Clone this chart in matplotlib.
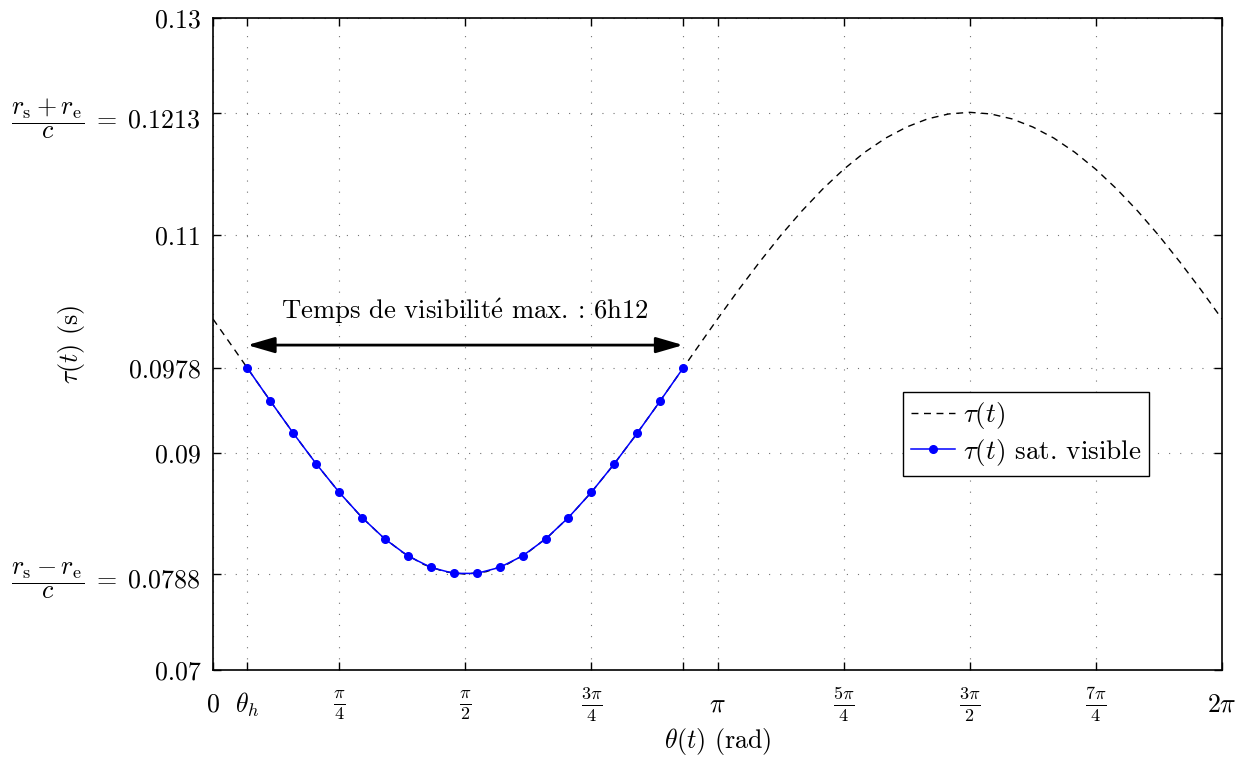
import numpy as np
import matplotlib
matplotlib.use('Agg')
import matplotlib.pyplot as plt
from matplotlib.patches import ArrowStyle

plt.rcParams['font.family'] = ['cmr10', 'DejaVu Serif']
plt.rcParams['mathtext.fontset'] = 'cm'
plt.rcParams['axes.unicode_minus'] = False

# ---- data ----
theta_curve_deg = [0, 7.5, 15, 22.5, 30, 37.5, 45, 52.5, 60, 67.5, 75, 82.5, 90,
                   97.5, 105, 112.5, 120, 127.5, 135, 142.5, 150, 157.5, 165, 172.5, 180,
                   187.5, 195, 202.5, 210, 217.5, 225, 232.5, 240, 247.5, 255, 262.5, 270,
                   277.5, 285, 292.5, 300, 307.5, 315, 322.5, 330, 337.5, 345, 352.5, 360]
tau_curve = [0.10230, 0.09955, 0.09677, 0.09401, 0.09132, 0.08875, 0.08636, 0.08421,
             0.08236, 0.08085, 0.07973, 0.07905, 0.07882,
             0.07905, 0.07973, 0.08085, 0.08236, 0.08421, 0.08636, 0.08875, 0.09132,
             0.09401, 0.09677, 0.09955, 0.10230,
             0.10498, 0.10754, 0.10997, 0.11221, 0.11425, 0.11607, 0.11764, 0.11895,
             0.11997, 0.12072, 0.12117, 0.12132,
             0.12117, 0.12072, 0.11997, 0.11895, 0.11764, 0.11607, 0.11425, 0.11221,
             0.10997, 0.10754, 0.10498, 0.10230]

theta_vis = [0.2140, 0.3568, 0.4996, 0.6424, 0.7853, 0.9281, 1.0709, 1.2137, 1.3566, 1.4994,
             1.6422, 1.7850, 1.9279, 2.0707, 2.2135, 2.3563, 2.4992, 2.6420, 2.7848, 2.9276]
tau_vis = [0.09779, 0.09476, 0.09180, 0.08898, 0.08636, 0.08403, 0.08205, 0.08050, 0.07944, 0.07889,
           0.07889, 0.07944, 0.08050, 0.08205, 0.08403, 0.08636, 0.08898, 0.09180, 0.09476, 0.09779]

theta_h = 0.2140
xtick_pos = [0, theta_h, np.pi / 4, np.pi / 2, 3 * np.pi / 4, np.pi - theta_h, np.pi,
             5 * np.pi / 4, 3 * np.pi / 2, 7 * np.pi / 4, 2 * np.pi]
xtick_labels = ['0', r'$\theta_h$', r'$\frac{\pi}{4}$', r'$\frac{\pi}{2}$', r'$\frac{3\pi}{4}$', '',
                r'$\pi$', r'$\frac{5\pi}{4}$', r'$\frac{3\pi}{2}$', r'$\frac{7\pi}{4}$', r'$2\pi$']
ytick_pos = [0.07, 0.0788, 0.09, 0.0978, 0.11, 0.1213, 0.13]
ytick_labels = ['0.07', r'$\dfrac{r_{\mathrm{s}}-r_{\mathrm{e}}}{c}\;=\;0.0788$', '0.09', '0.0978', '0.11',
                r'$\dfrac{r_{\mathrm{s}}+r_{\mathrm{e}}}{c}\;=\;0.1213$', '0.13']

arrow_y = 0.0999
text_y = 0.1030
annot_text = r'Temps de visibilit$\acute{\mathrm{e}}$ max. : 6h12'

FS = 18.7

fig = plt.figure(figsize=(12.47, 7.57), dpi=100)
ax = fig.add_axes([213 / 1247, 87 / 757, 1009 / 1247, 652 / 757])

ax.plot(np.radians(theta_curve_deg), tau_curve, color='k', lw=1.0, dashes=(5, 4),
        label=r'$\tau(t)$')
ax.plot(theta_vis, tau_vis, color='blue', lw=1.1, marker='o', ms=5.5,
        label=r'$\tau(t)$ sat. visible')

ax.set_xlim(0, 2 * np.pi)
ax.set_ylim(0.07, 0.13)
ax.set_xticks(xtick_pos)
ax.set_xticklabels(xtick_labels)
ax.set_yticks(ytick_pos)
ax.set_yticklabels(ytick_labels)

ax.tick_params(direction='in', top=True, right=True, length=6, width=1,
               labelsize=FS)
ax.tick_params(axis='y', pad=9)
ax.tick_params(axis='x', pad=25)
for lab in ax.get_xticklabels():
    lab.set_va('center')

ax.grid(True, color='0.45', linestyle=(0, (1, 9)), lw=0.8)
for sp in ax.spines.values():
    sp.set_linewidth(1.2)

ax.annotate('', xy=(theta_vis[-1], arrow_y), xytext=(theta_vis[0], arrow_y),
            arrowprops=dict(arrowstyle=ArrowStyle('<|-|>', head_length=1.1, head_width=0.32),
                            lw=2, color='k', shrinkA=0, shrinkB=0, mutation_scale=15))
ax.text((theta_vis[0] + theta_vis[-1]) / 2, text_y, annot_text, ha='center', va='center',
        fontsize=19.2)

ax.set_xlabel(r'$\theta(t)$ (rad)', fontsize=FS, va='center')
ax.set_ylabel(r'$\tau(t)$ (s)', fontsize=FS)
ax.xaxis.set_label_coords(0.5, -0.110)
ax.yaxis.set_label_coords(-0.125, 0.5)

leg = ax.legend(loc='upper left', bbox_to_anchor=(0.684, 0.426), fontsize=19.5,
                fancybox=False, edgecolor='k', framealpha=1, borderpad=0.3,
                labelspacing=0.2, handlelength=1.6, handletextpad=0.3, borderaxespad=0)
leg.get_frame().set_linewidth(1.0)

fig.savefig('out.png', dpi=100)
